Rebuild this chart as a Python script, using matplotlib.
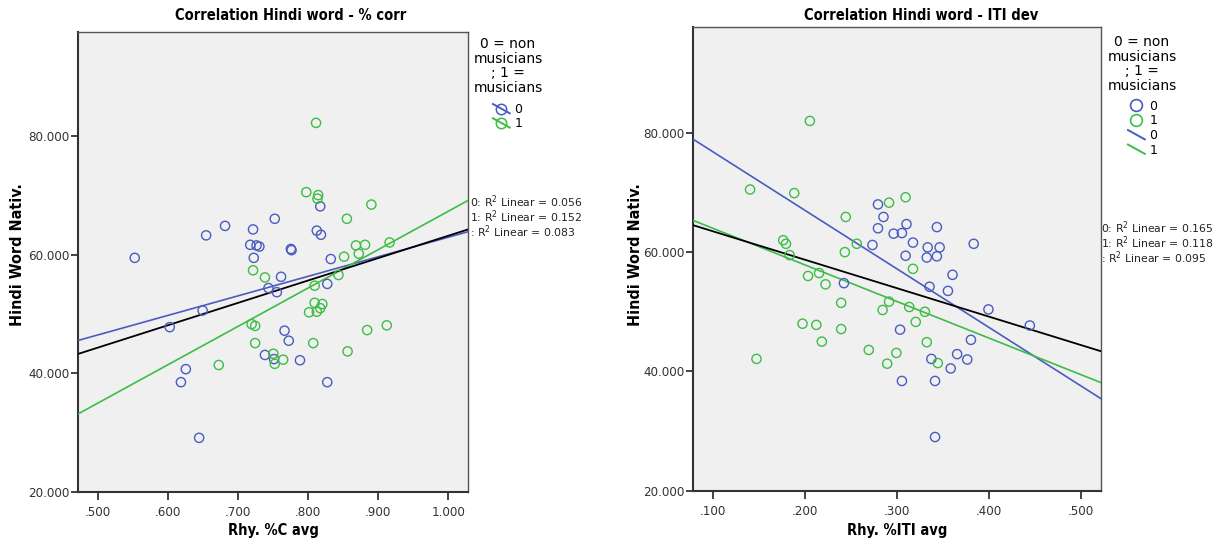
import matplotlib
matplotlib.use("Agg")
import matplotlib.pyplot as plt
from matplotlib.lines import Line2D
from matplotlib.legend_handler import HandlerBase
from matplotlib.ticker import FuncFormatter
import numpy as np

# % corr vs Hindi word nativeness, group 0 = non musicians, 1 = musicians
corr_x0 = [0.552, 0.654, 0.681, 0.721, 0.717, 0.726, 0.730, 0.722, 0.649, 0.602,
           0.625, 0.618, 0.644, 0.752, 0.817, 0.812, 0.818, 0.775, 0.776, 0.832,
           0.761, 0.743, 0.755, 0.827, 0.766, 0.772, 0.738, 0.751, 0.788, 0.827]
corr_y0 = [59.5, 63.3, 64.9, 64.3, 61.7, 61.6, 61.4, 59.5, 50.6, 47.8,
           40.7, 38.5, 29.1, 66.1, 68.2, 64.1, 63.4, 61.0, 60.8, 59.3,
           56.3, 54.4, 53.7, 55.1, 47.2, 45.5, 43.1, 42.4, 42.2, 38.5]
corr_x1 = [0.721, 0.719, 0.724, 0.724, 0.672, 0.811, 0.797, 0.814, 0.813, 0.890,
           0.855, 0.868, 0.881, 0.916, 0.872, 0.851, 0.738, 0.843, 0.809, 0.809,
           0.820, 0.817, 0.812, 0.801, 0.884, 0.912, 0.807, 0.856, 0.750, 0.752,
           0.764]
corr_y1 = [57.4, 48.3, 48.0, 45.1, 41.4, 82.3, 70.6, 70.1, 69.5, 68.5,
           66.1, 61.6, 61.7, 62.1, 60.2, 59.7, 56.2, 56.6, 54.8, 51.9,
           51.7, 51.0, 50.4, 50.3, 47.3, 48.1, 45.1, 43.7, 43.3, 41.6,
           42.3]

# ITI dev vs Hindi word nativeness
iti_x0 = [0.273, 0.242, 0.279, 0.285, 0.279, 0.296, 0.305, 0.310, 0.343, 0.317,
          0.333, 0.346, 0.309, 0.332, 0.343, 0.383, 0.360, 0.335, 0.355, 0.399,
          0.444, 0.303, 0.380, 0.365, 0.376, 0.337, 0.358, 0.305, 0.341, 0.341]
iti_y0 = [61.2, 54.8, 68.0, 65.9, 64.0, 63.1, 63.2, 64.7, 64.2, 61.6,
          60.8, 60.8, 59.4, 59.1, 59.3, 61.4, 56.2, 54.2, 53.5, 50.4,
          47.7, 47.0, 45.3, 42.9, 42.0, 42.1, 40.5, 38.4, 38.4, 29.0]
iti_x1 = [0.205, 0.140, 0.188, 0.244, 0.176, 0.179, 0.256, 0.243, 0.183, 0.203,
          0.215, 0.222, 0.239, 0.197, 0.212, 0.239, 0.218, 0.269, 0.147, 0.291,
          0.309, 0.317, 0.291, 0.284, 0.313, 0.330, 0.320, 0.332, 0.299, 0.289,
          0.344]
iti_y1 = [82.0, 70.5, 69.9, 65.9, 62.0, 61.4, 61.4, 60.0, 59.5, 56.0,
          56.5, 54.6, 51.5, 48.0, 47.8, 47.1, 45.0, 43.6, 42.1, 68.3,
          69.2, 57.2, 51.7, 50.3, 50.8, 50.0, 48.3, 44.9, 43.1, 41.3,
          41.4]

r2_corr = ["0: R$^2$ Linear = 0.056", "1: R$^2$ Linear = 0.152", ": R$^2$ Linear = 0.083"]
r2_iti = ["0: R$^2$ Linear = 0.165", "1: R$^2$ Linear = 0.118", ": R$^2$ Linear = 0.095"]

BLUE = "#4a5cbf"
GREEN = "#3dbd45"
BG = "#f0f0f0"
COND = dict(family="DejaVu Sans", stretch="condensed")
W, H = 1225, 546

fig = plt.figure(figsize=(12.25, 5.46), dpi=100)


def fx(px):
    return px / W


def fy(py):
    return 1 - py / H


class DiagHandler(HandlerBase):
    # slanted fit-line sample, optionally with the open circle on top
    def create_artists(self, legend, orig, xd, yd, w, h, fontsize, trans):
        x0, x1 = -xd + 0.05 * w, -xd + 0.95 * w
        y0, y1 = -yd + 0.95 * h, -yd + 0.05 * h
        art = [Line2D([x0, x1], [y0, y1], color=orig.get_color(), lw=1.4, transform=trans)]
        if orig.get_marker() not in (None, "None", ""):
            art.append(Line2D([(x0 + x1) / 2], [(y0 + y1) / 2], ls="none", marker="o",
                              mfc="none", mec=orig.get_color(), ms=7.5, mew=1.1,
                              transform=trans))
        return art


def fit_line(ax, x, y, xlim, color, lw):
    k, b = np.polyfit(x, y, 1)
    xs = np.array(xlim)
    ax.plot(xs, k * xs + b, color=color, lw=lw, zorder=3)


def draw_panel(rect, x0, y0, x1, y1, xlim, xticks, xlabel, title, title_x, ylab_x):
    ax = fig.add_axes(rect)
    ax.set_facecolor(BG)
    ax.scatter(x0, y0, s=44, facecolors="none", edgecolors=BLUE, linewidths=1.0, zorder=4)
    ax.scatter(x1, y1, s=44, facecolors="none", edgecolors=GREEN, linewidths=1.0, zorder=4)
    fit_line(ax, x0, y0, xlim, BLUE, 1.2)
    fit_line(ax, x1, y1, xlim, GREEN, 1.2)
    fit_line(ax, list(x0) + list(x1), list(y0) + list(y1), xlim, "black", 1.3)
    ax.set_xlim(*xlim)
    ax.set_ylim(20, 97.7)
    ax.set_xticks(xticks)
    ax.set_yticks([20, 40, 60, 80])
    ax.xaxis.set_major_formatter(FuncFormatter(
        lambda v, p: f"{v:.3f}" if v >= 1 else f"{v:.3f}".lstrip("0")))
    ax.yaxis.set_major_formatter(FuncFormatter(lambda v, p: f"{v:.3f}"))
    ax.tick_params(axis="x", direction="out", length=6, width=1.2,
                   colors="#222222", labelsize=9.5, pad=4)
    ax.tick_params(axis="y", direction="out", length=5, width=1.2,
                   colors="#222222", labelsize=9.5, pad=1)
    for lab in ax.get_xticklabels() + ax.get_yticklabels():
        lab.set_fontstretch("condensed")
        lab.set_color("#333333")
    for side in ["left", "bottom"]:
        ax.spines[side].set_color("#333333")
        ax.spines[side].set_linewidth(1.5)
    for side in ["top", "right"]:
        ax.spines[side].set_color("#555555")
        ax.spines[side].set_linewidth(1.0)
    fig.text(title_x, fy(16), title, fontweight="bold", fontsize=10.5,
             ha="center", va="center", **COND)
    fig.text(rect[0] + rect[2] / 2, fy(530), xlabel, fontweight="bold",
             fontsize=10.5, ha="center", va="center", **COND)
    fig.text(ylab_x, fy(255), "Hindi Word Nativ.", fontweight="bold",
             fontsize=11.5, ha="center", va="center", rotation=90, **COND)
    return ax


ax1 = draw_panel([fx(78), 54.3 / H, 390 / W, 460 / H],
                 corr_x0, corr_y0, corr_x1, corr_y1, (0.471, 1.028),
                 [0.5, 0.6, 0.7, 0.8, 0.9, 1.0], "Rhy. %C avg",
                 "Correlation Hindi word - % corr", fx(291), fx(18))
ax2 = draw_panel([fx(693), 55.3 / H, 407.7 / W, 463.4 / H],
                 iti_x0, iti_y0, iti_x1, iti_y1, (0.078, 0.521),
                 [0.1, 0.2, 0.3, 0.4, 0.5], "Rhy. %ITI avg",
                 "Correlation Hindi word - ITI dev", fx(921), fx(636))

leg_title = "0 = non\nmusicians\n; 1 =\nmusicians"
fig.text(fx(508), fy(37), leg_title, fontsize=10, ha="center", va="top",
         multialignment="center", linespacing=1.05)
fig.text(fx(1142), fy(35), leg_title, fontsize=10, ha="center", va="top",
         multialignment="center", linespacing=1.05)

h_left = [Line2D([], [], color=BLUE, marker="o"),
          Line2D([], [], color=GREEN, marker="o")]
fig.legend(h_left, ["0", "1"], loc="upper left",
           bbox_to_anchor=(fx(492), fy(103)), frameon=False,
           fontsize=9, handlelength=1.5, handleheight=0.9,
           handletextpad=0.3, labelspacing=0.1, borderpad=0, borderaxespad=0,
           handler_map={Line2D: DiagHandler()})

h_right = [Line2D([], [], ls="none", marker="o", mfc="none", mec=BLUE, ms=8.5, mew=1.2),
           Line2D([], [], ls="none", marker="o", mfc="none", mec=GREEN, ms=8.5, mew=1.2),
           Line2D([], [], color=BLUE),
           Line2D([], [], color=GREEN)]
fig.legend(h_right, ["0", "1", "0", "1"], loc="upper left",
           bbox_to_anchor=(fx(1127), fy(100)), frameon=False,
           fontsize=9, handlelength=1.5, handleheight=0.9,
           handletextpad=0.3, labelspacing=0.12, borderpad=0, borderaxespad=0,
           handler_map={h_right[2]: DiagHandler(), h_right[3]: DiagHandler()})

for i, s in enumerate(r2_corr):
    fig.text(fx(470), fy(202 + 15 * i), s, fontsize=7.8, va="center", color="#222222")
for i, s in enumerate(r2_iti):
    fig.text(fx(1101), fy(228 + 15 * i), s, fontsize=7.8, va="center", color="#222222")

fig.savefig("out.png", dpi=100, facecolor="white")
